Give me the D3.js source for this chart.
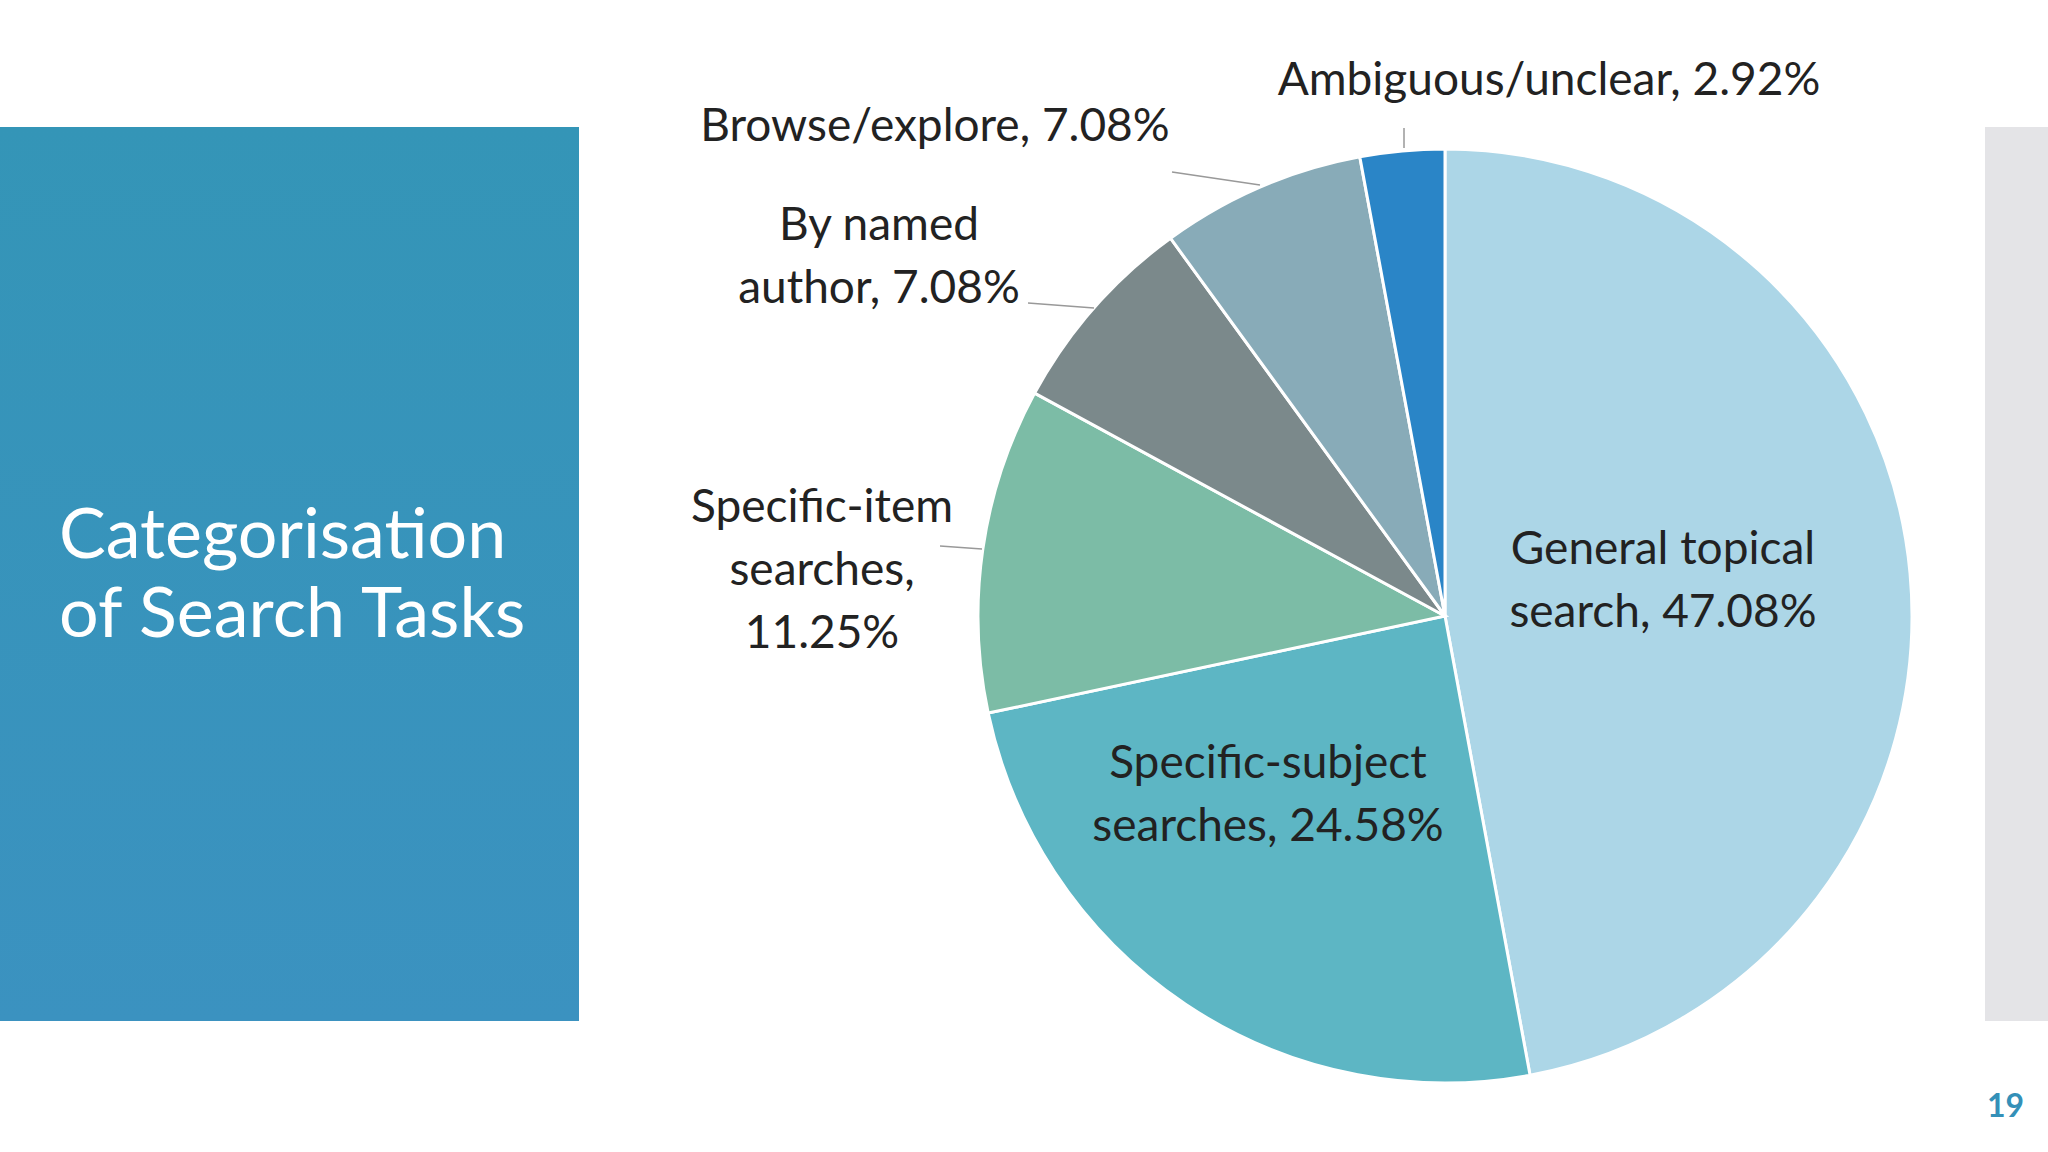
<!DOCTYPE html>
<html><head><meta charset="utf-8">
<script src="https://cdn.jsdelivr.net/npm/d3@7"></script>
<style>body{margin:0;background:#fff}svg{display:block}</style>
</head><body>
<svg id="c" width="2048" height="1152"></svg>
<script>
const categories=["General topical search","Specific-subject searches","Specific-item searches","By named author","Browse/explore","Ambiguous/unclear"];
const values=[47.08,24.58,11.25,7.08,7.08,2.92];
const colors=["#acd6e7","#5db6c4","#7cbca6","#7b898b","#88abb8","#2a85c7"];
const labelLines=[["General topical","search, 47.08%"],["Specific-subject","searches, 24.58%"],["Specific-item","searches,","11.25%"],["By named","author, 7.08%"],["Browse/explore, 7.08%"],["Ambiguous/unclear, 2.92%"]];
const labelPos=[[1663,564],[1268,778],[822,522],[879,240],[935,141],[1549,95]];
const leaders=[null,null,[[940,546],[982,549]],[[1028,303],[1094,308]],[[1172,172],[1260,185]],[[1404,128],[1404,148]]];

const svg=d3.select("#c");
const grad=svg.append("defs").append("linearGradient").attr("id","g").attr("x1",0).attr("y1",0).attr("x2",0).attr("y2",1);
grad.append("stop").attr("offset",0).attr("stop-color","#3495b7");
grad.append("stop").attr("offset",1).attr("stop-color","#3b92c0");
svg.append("rect").attr("x",0).attr("y",127).attr("width",579).attr("height",894).attr("fill","url(#g)");
svg.append("rect").attr("x",1985).attr("y",127).attr("width",63).attr("height",894).attr("fill","#e4e4e7");
const title=svg.append("text").attr("fill","#fff").attr("font-family","Lato, 'Open Sans', sans-serif").attr("font-size",70);
title.append("tspan").attr("x",59).attr("y",558).text("Categorisation");
title.append("tspan").attr("x",59).attr("y",637).text("of Search Tasks");
svg.append("text").attr("x",2024).attr("y",1117).attr("text-anchor","end").attr("fill","#3490b8").attr("font-family","Lato, sans-serif").attr("font-weight","bold").attr("font-size",32).text("19");

const pie=d3.pie().sort(null).value(d=>d)(values);
const arc=d3.arc().innerRadius(0).outerRadius(467);
const g=svg.append("g").attr("transform","translate(1445,616)");
g.selectAll("path").data(pie).join("path").attr("d",arc).attr("fill",(d,i)=>colors[i]).attr("stroke","#fff").attr("stroke-width",3);

leaders.forEach(l=>{if(l)svg.append("path").attr("d",d3.line()(l)).attr("stroke","#999").attr("stroke-width",1.5).attr("fill","none");});
labelLines.forEach((lines,i)=>{
  const t=svg.append("text").attr("text-anchor","middle").attr("fill","#222").attr("font-family","Lato, 'Open Sans', sans-serif").attr("font-size",46);
  lines.forEach((s,j)=>t.append("tspan").attr("x",labelPos[i][0]).attr("y",labelPos[i][1]+j*63).text(s));
});
</script>
</body></html>
